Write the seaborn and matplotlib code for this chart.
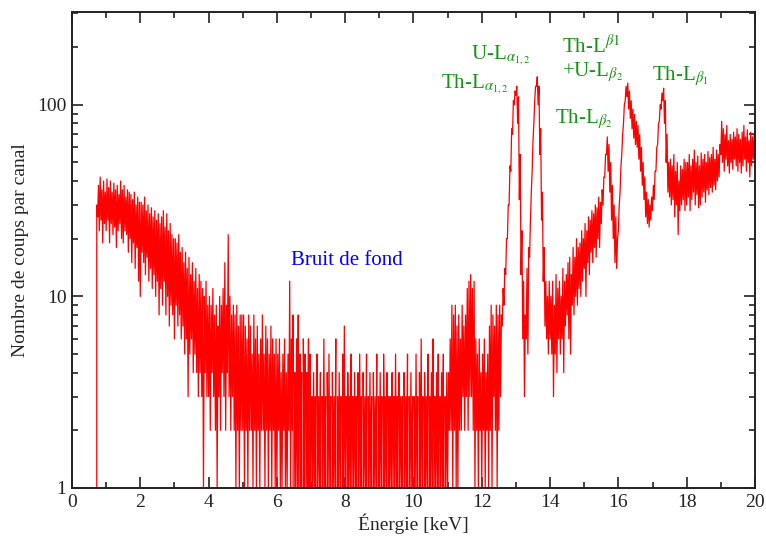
"""Spectre XRF - bruit de fond et raies L du thorium / uranium"""

# Imports
import numpy as np
import pandas as pd
import matplotlib
matplotlib.use('Agg')
import matplotlib.pyplot as plt
import seaborn as sns
from matplotlib.ticker import MultipleLocator, LogLocator, NullFormatter, FixedLocator, FixedFormatter

# Data: counts, one low / high pair per 0.05 keV bin from 0.70 keV
E_START = 0.70
E_STEP = 0.05

upper_counts = [
    30, 38, 42, 36, 40, 35,                                                          # 0.70-0.95
    41, 37, 40, 35, 39, 36, 38, 34, 40, 36, 38, 33, 36, 35, 34, 32, 35, 30, 33, 31,  # 1
    31, 30, 33, 28, 30, 27, 29, 26, 28, 25, 27, 24, 26, 28, 23, 27, 22, 24, 21, 20,  # 2
    20, 19, 21, 17, 18, 15, 17, 14, 16, 13, 15, 12, 14, 11, 13, 12, 11, 10, 12, 9,   # 3
    10, 9, 11, 8, 9, 7, 10, 9, 11, 15, 9, 21, 10, 8, 9, 8, 9, 7, 8, 8,               # 4
    8, 7, 6, 8, 7, 5, 8, 6, 7, 5, 6, 8, 5, 7, 6, 5, 7, 6, 5, 6,                      # 5
    5, 6, 4, 5, 6, 4, 5, 12, 6, 8, 4, 6, 8, 5, 4, 6, 5, 4, 6, 5,                     # 6
    3, 4, 3, 5, 3, 4, 3, 6, 3, 4, 5, 3, 4, 3, 6, 3, 4, 3, 5, 7,                      # 7
    3, 4, 3, 5, 3, 4, 3, 4, 5, 3, 4, 3, 5, 3, 4, 3, 4, 3, 5, 3,                      # 8
    4, 3, 5, 3, 4, 3, 3, 4, 3, 5, 3, 4, 3, 3, 4, 3, 5, 3, 4, 3,                      # 9
    3, 5, 3, 4, 6, 3, 4, 3, 5, 3, 4, 6, 3, 4, 5, 3, 4, 5, 3, 4,                      # 10
    4, 6, 9, 8, 9, 7, 8, 6, 9, 7, 8, 11, 12, 13, 11, 12, 6, 5, 6, 4,                 # 11
    5, 6, 4, 5, 7, 9, 8, 7, 9, 8, 9, 8, 11, 14, 20, 30, 48, 75, 105, 118,            # 12
    125, 110, 55, 22, 12, 8, 14, 18, 25, 45, 80, 125, 140, 125, 75, 35, 18, 12, 10, 12,  # 13
    10, 12, 9, 13, 11, 12, 10, 14, 12, 13, 15, 16, 13, 18, 16, 20, 18, 19, 22, 20,   # 14
    24, 22, 26, 25, 28, 27, 30, 29, 33, 31, 36, 42, 55, 68, 62, 50, 38, 30, 26, 20,  # 15
    30, 48, 70, 100, 125, 130, 118, 105, 95, 89, 82, 78, 70, 60, 50, 42, 35, 32, 30, 33,  # 16
    38, 45, 60, 80, 100, 115, 122, 105, 70, 50, 52, 48, 55, 45, 50, 40, 48, 46, 52, 50,  # 17
    50, 55, 48, 52, 58, 50, 54, 48, 56, 52, 55, 50, 57, 53, 55, 60, 52, 58, 55, 62,  # 18
    82, 75, 70, 78, 65, 70, 66, 72, 68, 75, 70, 66, 72, 78, 68, 74, 65, 72, 68, 70,  # 19
    65]                                                                              # 20.00

lower_counts = [
    0, 26, 22, 25, 19, 24,
    22, 25, 19, 24, 21, 23, 18, 22, 24, 20, 19, 22, 21, 17, 20, 15, 19, 14, 18, 12,
    10, 17, 15, 13, 16, 12, 14, 11, 13, 10, 12, 8, 11, 9, 12, 8, 10, 7, 9, 8,
    6, 9, 7, 8, 6, 7, 5, 6, 3, 5, 6, 4, 5, 4, 3, 4, 3, 1, 4, 3,
    3, 2, 4, 3, 2, 1, 3, 2, 4, 3, 2, 4, 3, 2, 3, 2, 1, 2, 1, 2,
    2, 1, 2, 1, 2, 2, 1, 2, 1, 2, 1, 2, 2, 1, 2, 1, 2, 1, 2, 1,
    1, 2, 1, 1, 2, 1, 1, 2, 1, 2, 0, 1, 1, 0, 1, 0, 1, 0, 1, 0,
    0, 1, 1, 0, 1, 1, 0, 1, 1, 0, 1, 1, 0, 1, 1, 0, 1, 1, 0, 1,
    1, 0, 1, 1, 0, 1, 1, 0, 1, 1, 0, 1, 1, 0, 1, 1, 0, 1, 1, 0,
    1, 1, 0, 1, 1, 0, 1, 1, 0, 1, 1, 0, 1, 1, 0, 1, 1, 0, 1, 1,
    0, 1, 1, 0, 1, 1, 0, 1, 1, 0, 1, 1, 0, 1, 1, 0, 1, 1, 0, 1,
    1, 2, 2, 1, 2, 1, 1, 2, 2, 3, 2, 3, 2, 3, 3, 2, 1, 2, 1, 2,
    1, 2, 1, 2, 1, 2, 1, 3, 2, 1, 2, 3, 7, 9, 13, 20, 30, 45, 70, 100,
    112, 80, 32, 13, 6, 3, 6, 5, 16, 35, 65, 105, 125, 100, 55, 25, 12, 7, 6, 5,
    6, 5, 3, 5, 4, 6, 5, 6, 4, 7, 8, 6, 5, 9, 8, 10, 9, 11, 10, 12,
    14, 10, 15, 13, 17, 15, 18, 16, 20, 18, 24, 30, 42, 55, 45, 35, 25, 20, 15, 14,
    22, 35, 55, 80, 105, 110, 95, 85, 75, 67, 62, 60, 52, 45, 38, 32, 26, 24, 23, 25,
    28, 32, 45, 62, 82, 95, 105, 80, 50, 35, 33, 30, 32, 26, 30, 21, 28, 30, 32, 28,
    30, 33, 28, 32, 35, 30, 34, 29, 30, 33, 35, 31, 36, 34, 37, 35, 38, 36, 40, 42,
    55, 50, 45, 52, 48, 44, 50, 46, 52, 48, 45, 50, 44, 48, 52, 45, 50, 42, 48, 52,
    50]

bins = np.round(E_START + E_STEP * np.arange(len(upper_counts)), 3)
energy = np.column_stack([bins, bins + E_STEP / 2]).ravel()
counts = np.column_stack([lower_counts, upper_counts]).ravel()
data = pd.DataFrame({'Energie': energy, 'Coups': counts})

Y_TICKS = [1, 10, 100]
Y_TICK_LABELS = ['1', '10', '100']
GREEN = '#149414'

# Style
sns.set_style('ticks')
plt.rcParams['font.family'] = ['Liberation Serif', 'DejaVu Serif']
plt.rcParams['mathtext.fontset'] = 'stix'

fig = plt.figure(figsize=(7.66, 5.4), dpi=100)
ax = fig.add_axes([0.094, 0.0963, 0.8916, 0.8815])

sns.lineplot(data=data, x='Energie', y='Coups', color='red', linewidth=0.9,
             errorbar=None, sort=False, ax=ax)
ax.set_yscale('log')
ax.set_xlim(0, 20)
ax.set_ylim(1, 305)

# Ticks, all four sides, pointing in
ax.xaxis.set_major_locator(MultipleLocator(2))
ax.xaxis.set_minor_locator(MultipleLocator(1))
ax.yaxis.set_major_locator(FixedLocator(Y_TICKS))
ax.yaxis.set_major_formatter(FixedFormatter(Y_TICK_LABELS))
ax.yaxis.set_minor_locator(LogLocator(base=10, subs=np.arange(2, 10)))
ax.yaxis.set_minor_formatter(NullFormatter())
ax.tick_params(which='both', direction='in', top=True, right=True, width=1.2, colors='#222222')
ax.tick_params(which='major', length=8, labelsize=14, pad=4)
ax.tick_params(which='minor', length=4)
for spine in ax.spines.values():
    spine.set_linewidth(1.4)
    spine.set_color('#222222')

ax.set_xlabel('Énergie [keV]', fontsize=14, labelpad=2)
ax.set_ylabel('Nombre de coups par canal', fontsize=14, labelpad=6)

# Annotations
ax.text(6.41, 14.6, 'Bruit de fond', color='blue', fontsize=15)
ax.text(11.68, 174, r'U-L$_{\alpha_{1,2}}$', color=GREEN, fontsize=15)
ax.text(10.8, 123, r'Th-L$_{\alpha_{1,2}}$', color=GREEN, fontsize=15)
ax.text(14.35, 187, r'Th-L$^{\beta1}$', color=GREEN, fontsize=15)
ax.text(14.35, 140, r'+U-L$_{\beta_2}$', color=GREEN, fontsize=15)
ax.text(14.15, 80, r'Th-L$_{\beta_2}$', color=GREEN, fontsize=15)
ax.text(16.98, 135, r'Th-L$_{\beta_1}$', color=GREEN, fontsize=15)

plt.savefig('out.png', dpi=100)
